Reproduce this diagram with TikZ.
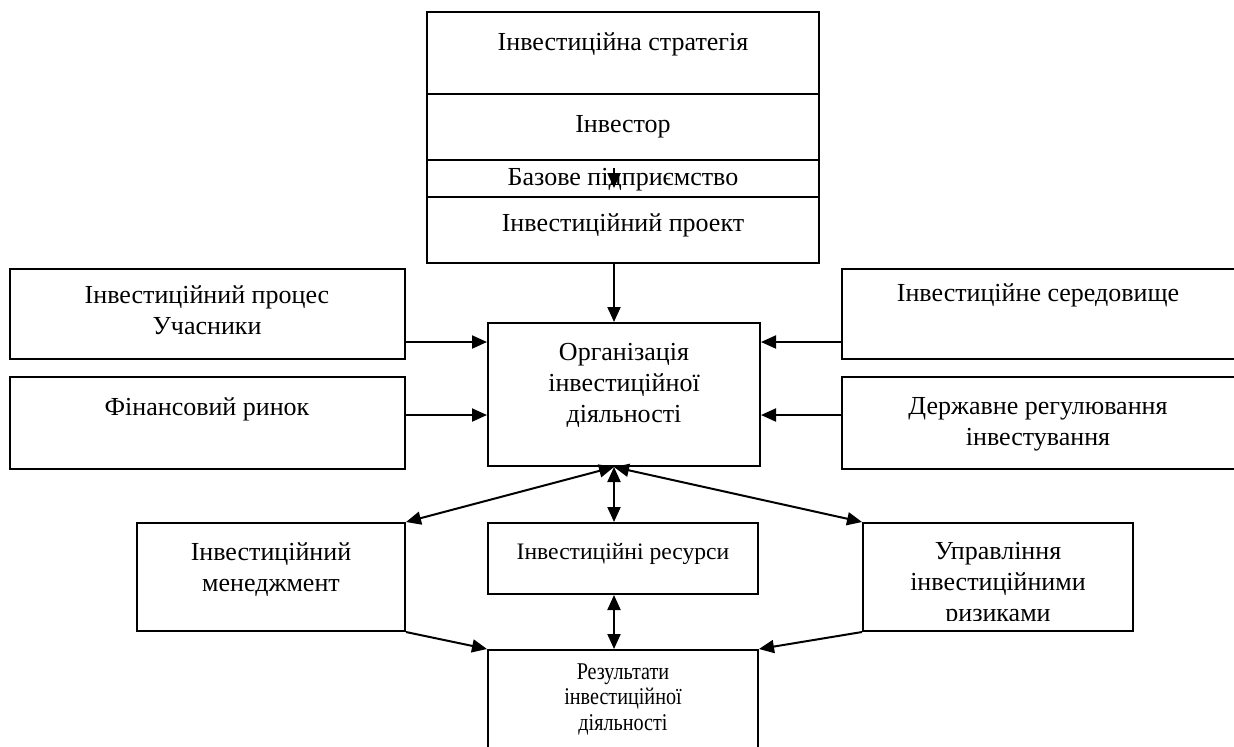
\documentclass[tikz,border=0pt]{standalone}
\usepackage{fontspec}
\setmainfont{Liberation Serif}
\newfontfamily\narrowfont[FakeStretch=0.84]{Liberation Serif}
\usetikzlibrary{arrows.meta,positioning,calc,fit}

\begin{document}
\begin{tikzpicture}[x=0.5pt,y=-0.5pt,
    box/.style={draw, line width=1pt, inner sep=0pt},
    txt/.style={align=center, inner sep=0pt, anchor=north, font=\fontsize{13}{15.5}\selectfont},
    stxt/.style={txt, font=\fontsize{11.8}{14}\selectfont},
    ntxt/.style={txt, font=\fontsize{12}{12.75}\selectfont\narrowfont},
    arr/.style={line width=1pt, -{Triangle[length=7.5pt,width=6.5pt]}},
    darr/.style={line width=1pt, {Triangle[length=7.5pt,width=6.5pt]}-{Triangle[length=7.5pt,width=6.5pt]}}]
    \useasboundingbox (0,0) rectangle (1234,746);

    % Top stack
    \node[box, fit={(427,12) (819,94)}] (strat) {};
    \node[box, fit={(427,94) (819,160)}] (inv) {};
    \node[box, fit={(427,160) (819,197)}] (base) {};
    \node[box, fit={(427,197) (819,263)}] (proj) {};
    \node[txt] (tstrat) at (623,32) {Інвестиційна стратегія};
    \node[txt] (tinv) at (623,115) {Інвестор};
    \node[txt] (tbase) at (623,168) {Базове підприємство};
    \node[txt] (tproj) at (623,213) {Інвестиційний проект};

    % Centre
    \node[box, fit={(488,323) (760,466)}] (org) {};
    \node[txt] (torg) at (624,343) {Організація\\інвестиційної\\діяльності};

    % Side boxes
    \node[box, fit={(10,269) (405,359)}] (proc) {};
    \node[box, fit={(10,377) (405,469)}] (fin) {};
    \node[box, fit={(842,269) (1240,359)}] (env) {};
    \node[box, fit={(842,377) (1240,469)}] (reg) {};
    \node[txt] (tproc) at (207,285) {Інвестиційний процес\\Учасники};
    \node[txt] (tfin) at (207,397) {Фінансовий ринок};
    \node[txt] (tenv) at (1038,283) {Інвестиційне середовище};
    \node[txt] (treg) at (1038,397) {Державне регулювання\\інвестування};

    % Bottom row
    \node[box, fit={(137,523) (405,631)}] (mgmt) {};
    \node[box, fit={(488,523) (758,594)}] (res) {};
    \node[box, fit={(863,523) (1133,631)}] (risk) {};
    \node[box, fit={(488,650) (758,760)}] (out) {};
    \node[txt] (tmgmt) at (271,542) {Інвестиційний\\менеджмент};
    \node[stxt] (tres) at (623,543) {Інвестиційні ресурси};
    \begin{scope}
        \clip (863,523) rectangle (1133,620);
        \node[txt] (trisk) at (998,542) {Управління\\інвестиційними\\ризиками};
    \end{scope}
    \node[ntxt] (tout) at (623,663) {Результати\\інвестиційної\\діяльності};

    % Connectors
    \coordinate (ax) at (614,0);
    \coordinate (r1) at (0,342);
    \coordinate (r2) at (0,415);
    \coordinate (p1) at (614,168);
    \coordinate (p2) at (614,188);
    \coordinate (hub) at (org.south -| ax);
    \draw[arr] (p1) -- (p2);
    \draw[arr] (proj.south -| ax) -- (org.north -| ax);
    \foreach \s in {r1,r2} {
        \draw[arr] (proc.east |- \s) -- (org.west |- \s);
        \draw[arr] (env.west |- \s) -- (org.east |- \s);
    }
    \draw[darr] (hub) -- (mgmt.north east);
    \draw[darr] (hub) -- (res.north -| ax);
    \draw[darr] (hub) -- (risk.north west);
    \draw[darr] (res.south -| ax) -- (out.north -| ax);
    \draw[arr] (mgmt.south east) -- (out.north west);
    \draw[arr] (risk.south west) -- (out.north east);
\end{tikzpicture}
\end{document}
